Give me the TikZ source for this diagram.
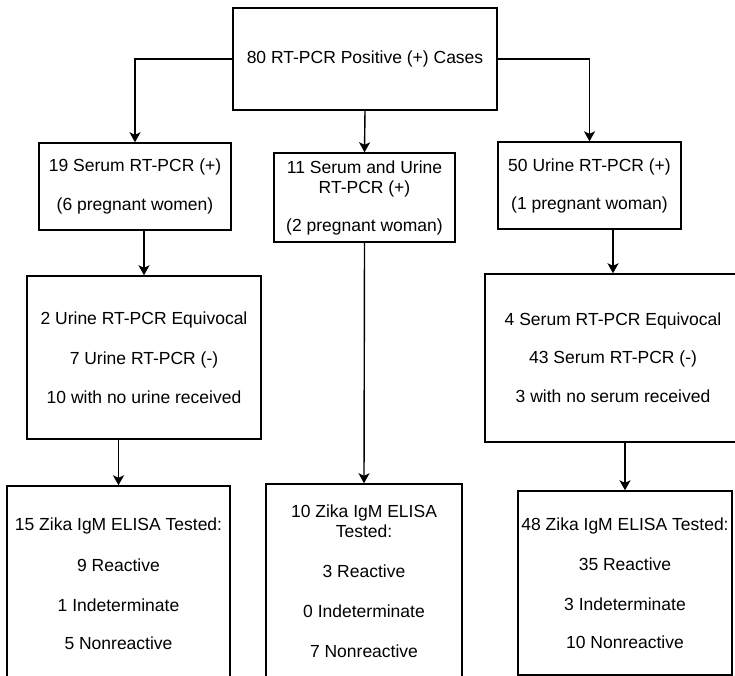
\documentclass[tikz,border=0pt]{standalone}
\usepackage{fontspec}
\setmainfont{Liberation Sans}
\usetikzlibrary{arrows.meta}
\tikzset{
	flowbox/.style={draw, line width=1.4pt, align=center, inner sep=0pt, fill=white, font=\fontsize{17.5}{20}\selectfont},
	flowarrow/.style={line width=1.4pt, -{Stealth[length=10pt,width=11pt,inset=2.5pt]}}
}
\begin{document}
\begin{tikzpicture}[x=1pt,y=-1pt]
				\useasboundingbox (0,0) rectangle (735,676);
				\clip (0,0) rectangle (735,676);
				\node[flowbox, minimum width=264pt, minimum height=102pt](cases) at (365,59){80 RT-PCR Positive (+) Cases};
				\node[flowbox, minimum width=192pt, minimum height=87pt](serum) at (135,186.5){19 Serum RT-PCR (+)\\[19pt](6 pregnant women)};
				\node[flowbox, minimum width=181pt, minimum height=89pt](both) at (364.5,197.5){11 Serum and Urine\\RT-PCR (+)\\[18pt](2 pregnant woman)};
				\node[flowbox, minimum width=183pt, minimum height=87pt](urine) at (589.5,185.5){50 Urine RT-PCR (+)\\[18pt](1 pregnant woman)};
				\node[flowbox, minimum width=234pt, minimum height=163pt](urineres) at (144,357.5){2 Urine RT-PCR Equivocal\\[20pt]7 Urine RT-PCR (-)\\[19pt]10 with no urine received};
				\node[flowbox, minimum width=256pt, minimum height=168pt](serumres) at (613,358){4 Serum RT-PCR Equivocal\\[18pt]43 Serum RT-PCR (-)\\[19pt]3 with no serum received};
				\node[flowbox, minimum width=223pt, minimum height=196pt](elisaL) at (118.5,584){15 Zika IgM ELISA Tested:\\[21pt]9 Reactive\\[20pt]1 Indeterminate\\[18pt]5 Nonreactive};
				\node[flowbox, minimum width=196pt, minimum height=194pt](elisaM) at (364,581){10 Zika IgM ELISA\\Tested:\\[20pt]3 Reactive\\[20pt]0 Indeterminate\\[20pt]7 Nonreactive};
				\node[flowbox, minimum width=214pt, minimum height=184pt](elisaR) at (625,583){48 Zika IgM ELISA Tested:\\[20pt]35 Reactive\\[20pt]3 Indeterminate\\[18pt]10 Nonreactive};
				\draw[flowarrow](cases.west) -| (serum.north);
				\draw[flowarrow](cases.south) to (both.north);
				\draw[flowarrow](cases.east) -| (urine.north);
				\draw[flowarrow](serum.south -| urineres.north) to (urineres.north);
				\draw[flowarrow](urine.south -| serumres.north) to (serumres.north);
				\draw[flowarrow](urineres.south -| elisaL.north) to (elisaL.north);
				\draw[flowarrow](both.south) to (elisaM.north);
				\draw[flowarrow](serumres.south -| elisaR.north) to (elisaR.north);
			\end{tikzpicture}
\end{document}
